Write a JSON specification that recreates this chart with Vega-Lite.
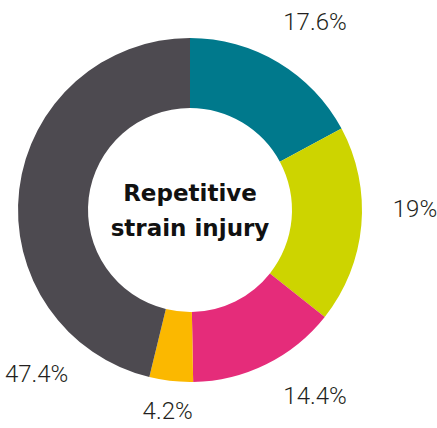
{
  "$schema": "https://vega.github.io/schema/vega-lite/v6.json",
  "width": 380,
  "height": 420,
  "autosize": "none",
  "padding": {"left": 0, "top": 0, "right": 57, "bottom": 8},
  "background": "white",
  "config": {"view": {"stroke": null}},
  "data": {
    "values": [
      {"segment": "A", "value": 17.6, "label": "17.6%"},
      {"segment": "B", "value": 19, "label": "19%"},
      {"segment": "C", "value": 14.4, "label": "14.4%"},
      {"segment": "D", "value": 4.2, "label": "4.2%"},
      {"segment": "E", "value": 47.4, "label": "47.4%"}
    ]
  },
  "layer": [
    {
      "mark": {"type": "arc", "outerRadius": 172, "innerRadius": 102},
      "encoding": {
        "theta": {"field": "value", "type": "quantitative", "stack": true},
        "color": {
          "field": "segment",
          "type": "nominal",
          "scale": {"domain": ["A", "B", "C", "D", "E"], "range": ["#00798C", "#CDD400", "#E52C7A", "#FBB800", "#4D4A50"]},
          "legend": null
        }
      }
    },
    {
      "mark": {
        "type": "text",
        "radius": {"expr": "datum.segment === 'D' ? 203 : 225"},
        "thetaOffset": {"expr": "datum.segment === 'E' ? -0.94 : datum.segment === 'C' ? -0.13 : datum.segment === 'B' ? -0.09 : datum.segment === 'A' ? 0.05 : 0"},
        "font": "Roboto",
        "fontWeight": 300,
        "fontSize": 24,
        "color": "#231F20",
        "align": "center",
        "baseline": "middle"
      },
      "encoding": {
        "theta": {"field": "value", "type": "quantitative", "stack": true},
        "order": {"field": "segment"},
        "detail": {"field": "segment"},
        "text": {"field": "label"}
      }
    },
    {
      "data": {"values": [{"title": "Repetitive strain injury"}]},
      "mark": {
        "type": "text",
        "font": "DejaVu Sans",
        "fontWeight": "bold",
        "fontSize": 23,
        "color": "#111111",
        "align": "center",
        "baseline": "middle",
        "lineHeight": 35,
        "dy": -16
      },
      "encoding": {
        "text": {"value": ["Repetitive", "strain injury"]}
      }
    }
  ]
}
